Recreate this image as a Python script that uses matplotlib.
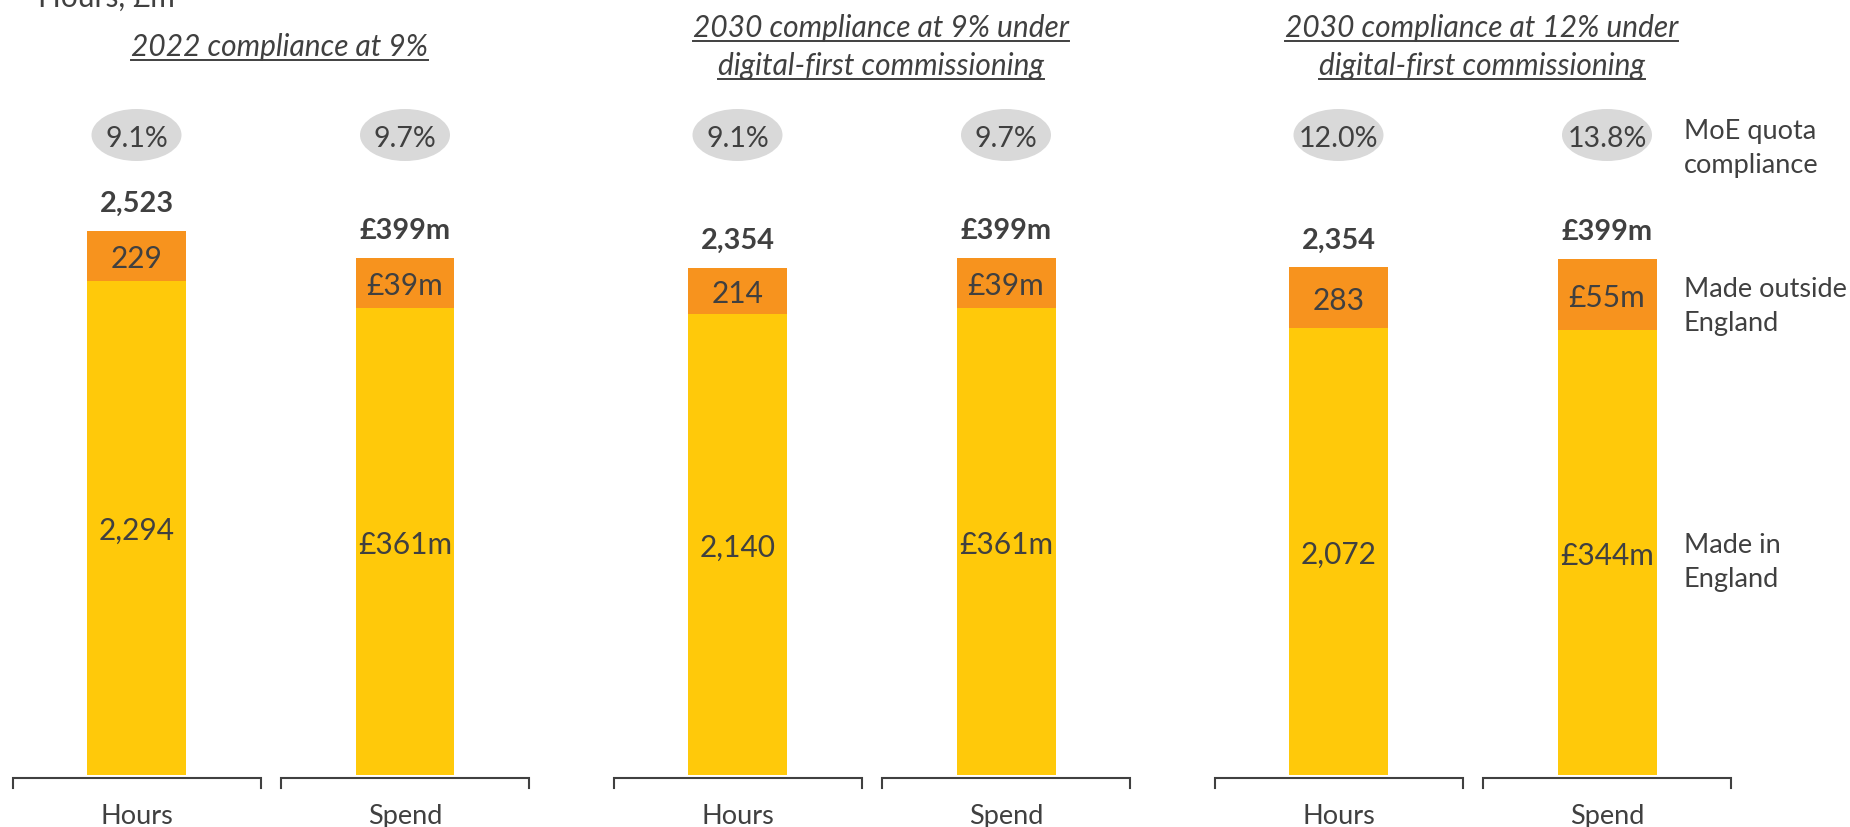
import matplotlib
matplotlib.use("Agg")
import matplotlib.pyplot as plt
from matplotlib.patches import Ellipse
from matplotlib.lines import Line2D
import matplotlib.transforms as mtrans

# ---------------- data ----------------
scenarios = ["2022 compliance at 9%",
             "2030 compliance at 9% under\ndigital-first commissioning",
             "2030 compliance at 12% under\ndigital-first commissioning"]
metrics = ["Hours", "Spend"]
hours_in = [2294, 2140, 2072]
hours_out = [229, 214, 283]
hours_total = [2523, 2354, 2354]
spend_in = [361, 361, 344]
spend_out = [39, 39, 55]
spend_total = [399, 399, 399]
hours_compliance = [9.1, 9.1, 12.0]
spend_compliance = [9.7, 9.7, 13.8]
side_labels = ["MoE quota\ncompliance", "Made outside\nEngland", "Made in\nEngland"]
unit_label = "Hours, £m"

# ---------------- style ----------------
W, H, DPI = 1850, 828, 100
FONT = "Lato"
TXT = "#404040"
YELLOW = "#FFC90A"
ORANGE = "#F7931E"
GREY = "#D9D9D9"
FS = 19.5          # category / side labels
FS_SEG = 21.5      # segment labels
FS_TOT = 20.8      # bold totals
FS_PCT = 20.5      # compliance ellipses
FS_TITLE = 21.5    # scenario titles

plt.rcParams["font.family"] = [FONT, "DejaVu Sans"]

fig = plt.figure(figsize=(W / DPI, H / DPI), dpi=DPI)
base_px = 776
ax_h = fig.add_axes([0, (H - base_px) / H, 1, base_px / H])
ax_s = fig.add_axes([0, (H - base_px) / H, 1, base_px / H], sharex=ax_h)
for a in (ax_h, ax_s):
    a.set_axis_off()
    a.patch.set_alpha(0)

px_unit = 268.5          # pixels per x unit (distance Hours->Spend)
x0_px = 136.5            # pixel x of first bar centre
group_step = 601 / px_unit
bar_w = 99 / px_unit
ax_h.set_xlim(-x0_px / px_unit, (W - x0_px) / px_unit)
ax_h.set_ylim(0, base_px / 0.2155)
ax_s.set_ylim(0, base_px / 1.2932)

trans = mtrans.blended_transform_factory(ax_h.transData, fig.transFigure)
fy = lambda ytop: 1 - ytop / H
pt = 72 / DPI  # points per pixel

series = {
    "Hours": (ax_h, hours_in, hours_out, hours_total, hours_compliance,
              lambda v: f"{v:,}"),
    "Spend": (ax_s, spend_in, spend_out, spend_total, spend_compliance,
              lambda v: f"£{v}m"),
}

last = None
for j, m in enumerate(metrics):
    ax, vin, vout, vtot, comp, fmt = series[m]
    xs = [g * group_step + j for g in range(len(scenarios))]
    ax.bar(xs, vin, width=bar_w, color=YELLOW, linewidth=0)
    ax.bar(xs, vout, bottom=vin, width=bar_w, color=ORANGE, linewidth=0)
    for x, a, b, t, c in zip(xs, vin, vout, vtot, comp):
        # segment labels
        ax.annotate(fmt(a), xy=(x, a / 2), xytext=(0, -11 * pt),
                    textcoords="offset points", ha="center", va="baseline",
                    fontsize=FS_SEG, color=TXT)
        ax.annotate(fmt(b), xy=(x, a + b / 2), xytext=(0, -11 * pt),
                    textcoords="offset points", ha="center", va="baseline",
                    fontsize=FS_SEG, color=TXT)
        # totals
        ax.annotate(fmt(t), xy=(x, a + b), xytext=(0, 20 * pt),
                    textcoords="offset points", ha="center", va="baseline",
                    fontsize=FS_TOT, color=TXT, fontweight="bold")
        # compliance ellipse
        ax_h.add_patch(Ellipse((x, fy(136)), width=90 / px_unit, height=52 / H,
                               transform=trans, facecolor=GREY, edgecolor="none",
                               clip_on=False, zorder=1))
        ax_h.text(x, fy(147), f"{c:.1f}%", transform=trans, ha="center",
                  va="baseline", fontsize=FS_PCT, color=TXT, zorder=2)
        # category bracket + label
        hw = 124 / px_unit
        ax_h.plot([x - hw, x - hw, x + hw, x + hw], [fy(789), fy(779), fy(779), fy(789)],
                  transform=trans, color=TXT, lw=1.5, clip_on=False,
                  solid_joinstyle="miter")
        ax_h.text(x, fy(824), m, transform=trans, ha="center", va="baseline",
                  fontsize=FS, color=TXT)
    if m == "Spend":
        last = (ax, xs[-1], vin[-1], vout[-1])

# side labels anchored to the last bar
ax, xl, a, b = last
off = (1683 - 1656) * pt
LS = 1.45
ax_h.text(xl + bar_w / 2 + 27 / px_unit, fy(149), side_labels[0], transform=trans,
          ha="left", va="center", fontsize=FS, color=TXT, linespacing=LS)
ax.annotate(side_labels[1], xy=(xl + bar_w / 2, a + b / 2), xytext=(off, -11 * pt),
            textcoords="offset points", ha="left", va="center", fontsize=FS,
            color=TXT, linespacing=LS, annotation_clip=False)
ax.annotate(side_labels[2], xy=(xl + bar_w / 2, a / 2), xytext=(off, -9 * pt),
            textcoords="offset points", ha="left", va="center", fontsize=FS,
            color=TXT, linespacing=LS, annotation_clip=False)

# unit label
fig.text(38 / W, fy(7), unit_label, ha="left", va="baseline", fontsize=FS_SEG, color=TXT)

# scenario titles (underlined, italic)
title_texts = []
for g, s in enumerate(scenarios):
    xc = g * group_step + 0.5 + 9 / px_unit
    lines = s.split("\n")
    n = len(lines)
    for i, line in enumerate(lines):
        bl = 56 + (i - (n - 1) / 2) * 38
        t = ax_h.text(xc, fy(bl), line, transform=trans, ha="center", va="baseline",
                      fontsize=FS_TITLE, color=TXT, style="italic")
        title_texts.append((t, bl))

fig.canvas.draw()
r = fig.canvas.get_renderer()
for t, bl in title_texts:
    bb = t.get_window_extent(r)
    yd = H - (bl + 4.5)
    fig.add_artist(Line2D([bb.x0, bb.x1], [yd, yd], transform=mtrans.IdentityTransform(),
                          color=TXT, lw=1.4))

fig.savefig("out.png", dpi=DPI)
